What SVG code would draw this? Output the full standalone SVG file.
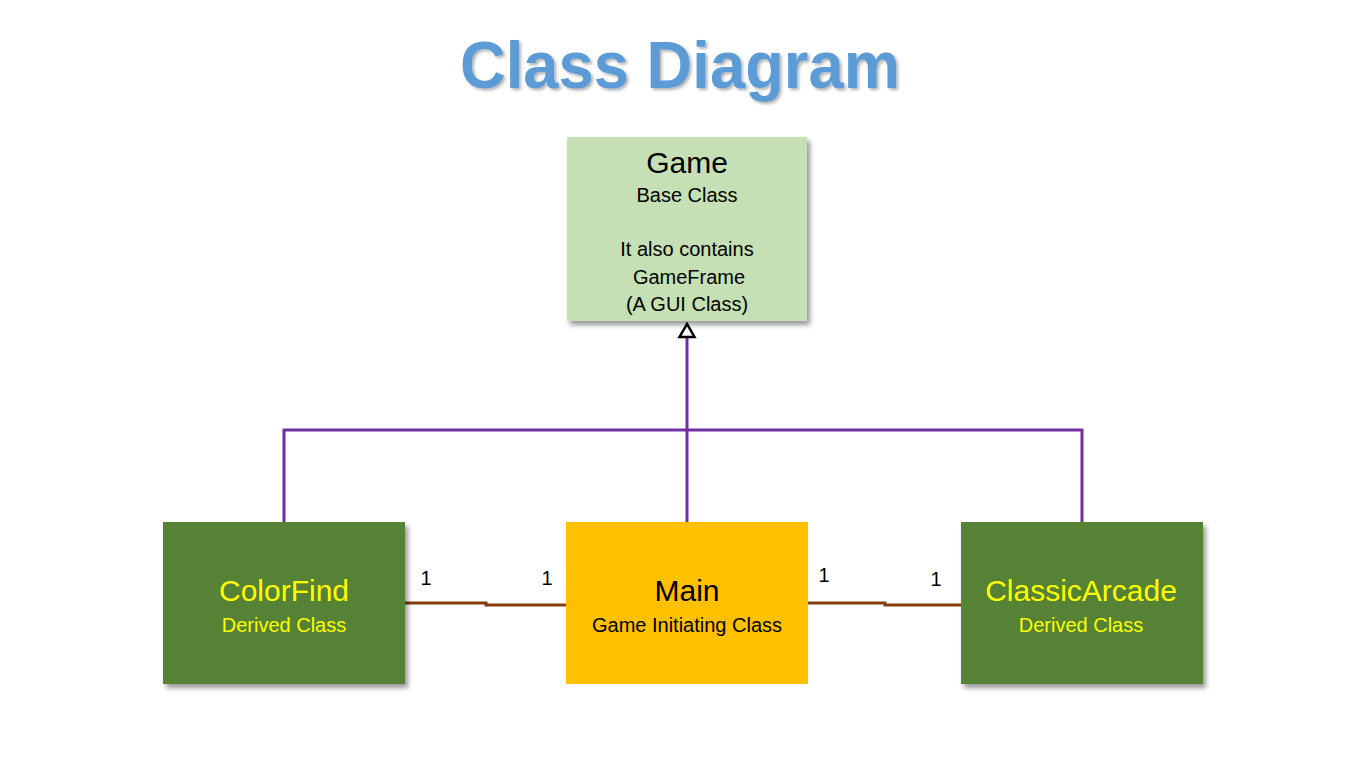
<svg xmlns="http://www.w3.org/2000/svg" width="1366" height="768" viewBox="0 0 1366 768">
<style>
.t{font-family:"Liberation Sans",Arial,sans-serif;text-anchor:middle}
.big{font-size:30px}
.sm{font-size:20px}
.dk{fill:#000}
.yl{fill:#FFFF00}
.inh{fill:none;stroke:#7030A0;stroke-width:3}
.asc{fill:none;stroke:#843C0C;stroke-width:3}
.num{font-family:"Liberation Sans",Arial,sans-serif;font-size:20px;fill:#000;text-anchor:middle}
</style>
<defs>
<filter id="sh" x="-10%" y="-10%" width="125%" height="125%">
<feDropShadow dx="3" dy="4" stdDeviation="2.5" flood-color="#000" flood-opacity="0.4"/>
</filter>
<filter id="tsh" x="-5%" y="-10%" width="110%" height="130%">
<feDropShadow dx="2" dy="2" stdDeviation="1.5" flood-color="#000" flood-opacity="0.3"/>
</filter>
</defs>
<rect width="1366" height="768" fill="#fff"/>
<text id="title" x="680" y="88" font-family="'Liberation Sans',Arial,sans-serif" font-weight="bold" font-size="66" fill="#5B9BD5" text-anchor="middle" textLength="440" lengthAdjust="spacingAndGlyphs" filter="url(#tsh)">Class Diagram</text>
<g id="connectors">
<polyline class="inh" points="284,522 284,430 1082,430 1082,522"/>
<line class="inh" x1="687" y1="522" x2="687" y2="337"/>
<polygon points="687,324 679.5,337 694.5,337" fill="#fff" stroke="#000" stroke-width="2.5" stroke-linejoin="miter"/>
<polyline class="asc" points="405,603 486,603 486,605 566,605"/>
<polyline class="asc" points="808,603 885,603 885,605 961,605"/>
<text class="num" x="426" y="585">1</text>
<text class="num" x="547" y="585">1</text>
<text class="num" x="824" y="582">1</text>
<text class="num" x="936" y="586">1</text>
</g>
<g id="game">
<rect x="567" y="137" width="240" height="184" fill="#C5E0B4" filter="url(#sh)"/>
<text class="t big dk" x="687" y="173">Game</text>
<text class="t sm dk" x="687" y="202">Base Class</text>
<text class="t sm dk" x="687" y="256">It also contains</text>
<text class="t sm dk" x="689" y="284">GameFrame</text>
<text class="t sm dk" x="687" y="311">(A GUI Class)</text>
</g>
<g id="colorfind">
<rect x="163" y="522" width="242" height="162" fill="#548235" filter="url(#sh)"/>
<text class="t big yl" x="284" y="601">ColorFind</text>
<text class="t sm yl" x="284" y="632">Derived Class</text>
</g>
<g id="main">
<rect x="566" y="522" width="242" height="162" fill="#FFC000"/>
<text class="t big dk" x="687" y="601">Main</text>
<text class="t sm dk" x="687" y="632">Game Initiating Class</text>
</g>
<g id="classicarcade">
<rect x="961" y="522" width="242" height="162" fill="#548235" filter="url(#sh)"/>
<text class="t big yl" x="1081" y="601">ClassicArcade</text>
<text class="t sm yl" x="1081" y="632">Derived Class</text>
</g>
</svg>
